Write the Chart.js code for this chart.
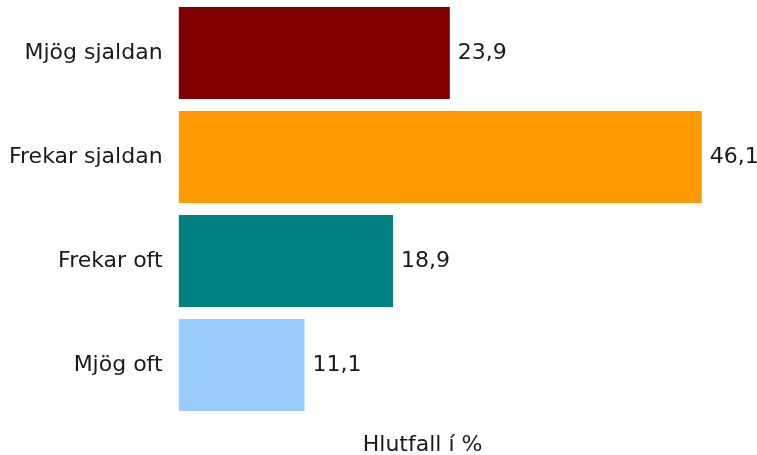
<!DOCTYPE html>
<html><head><meta charset="utf-8">
<script src="https://cdn.jsdelivr.net/npm/chart.js@4"></script>
<style>html,body{margin:0;padding:0;background:#fff}#wrap{width:757px;height:455px}</style>
</head><body><div id="wrap"><canvas id="c" width="757" height="455"></canvas></div>
<script>
const categories = ["Mjög sjaldan", "Frekar sjaldan", "Frekar oft", "Mjög oft"];
const values = [23.9, 46.1, 18.9, 11.1];
const barColors = ["#800000", "#FF9900", "#008080", "#99CCFF"];
const axisTitle = "Hlutfall í %";
const FONT = "'DejaVu Sans', Verdana, sans-serif";
const FSIZE = 22;
const TXT = "#1a1a1a";

const labelsPlugin = {
  id: 'valLabels',
  afterDatasetsDraw(chart) {
    const ctx = chart.ctx;
    const meta = chart.getDatasetMeta(0);
    ctx.save();
    ctx.font = FSIZE + "px " + FONT;
    ctx.fillStyle = TXT;
    ctx.textAlign = 'left';
    ctx.textBaseline = 'middle';
    meta.data.forEach((bar, i) => {
      ctx.fillText(values[i].toFixed(1).replace('.', ','), bar.x + 8, bar.y);
    });
    const ca = chart.chartArea;
    ctx.textAlign = 'center';
    ctx.fillText(axisTitle, ca.left + (ca.right - ca.left) * 0.43, ca.bottom + 28);
    ctx.restore();
  }
};

new Chart(document.getElementById('c'), {
  type: 'bar',
  data: {
    labels: categories,
    datasets: [{ data: values, backgroundColor: barColors, borderWidth: 0,
      barPercentage: 0.885, categoryPercentage: 1.0 }]
  },
  options: {
    indexAxis: 'y',
    responsive: false,
    animation: false,
    layout: { padding: { top: 1, bottom: 38, right: 11, left: 0 } },
    plugins: { legend: { display: false }, tooltip: { enabled: false } },
    scales: {
      x: { display: false, min: 0, max: 50 },
      y: {
        grid: { display: false, drawTicks: false },
        border: { display: false },
        ticks: { color: TXT, font: { family: FONT, size: FSIZE }, padding: 16 },
        afterFit(scale) { scale.paddingTop = 0; scale.paddingBottom = 0; scale.width = scale.width - 7; }
      }
    }
  },
  plugins: [labelsPlugin]
});
</script></body></html>
